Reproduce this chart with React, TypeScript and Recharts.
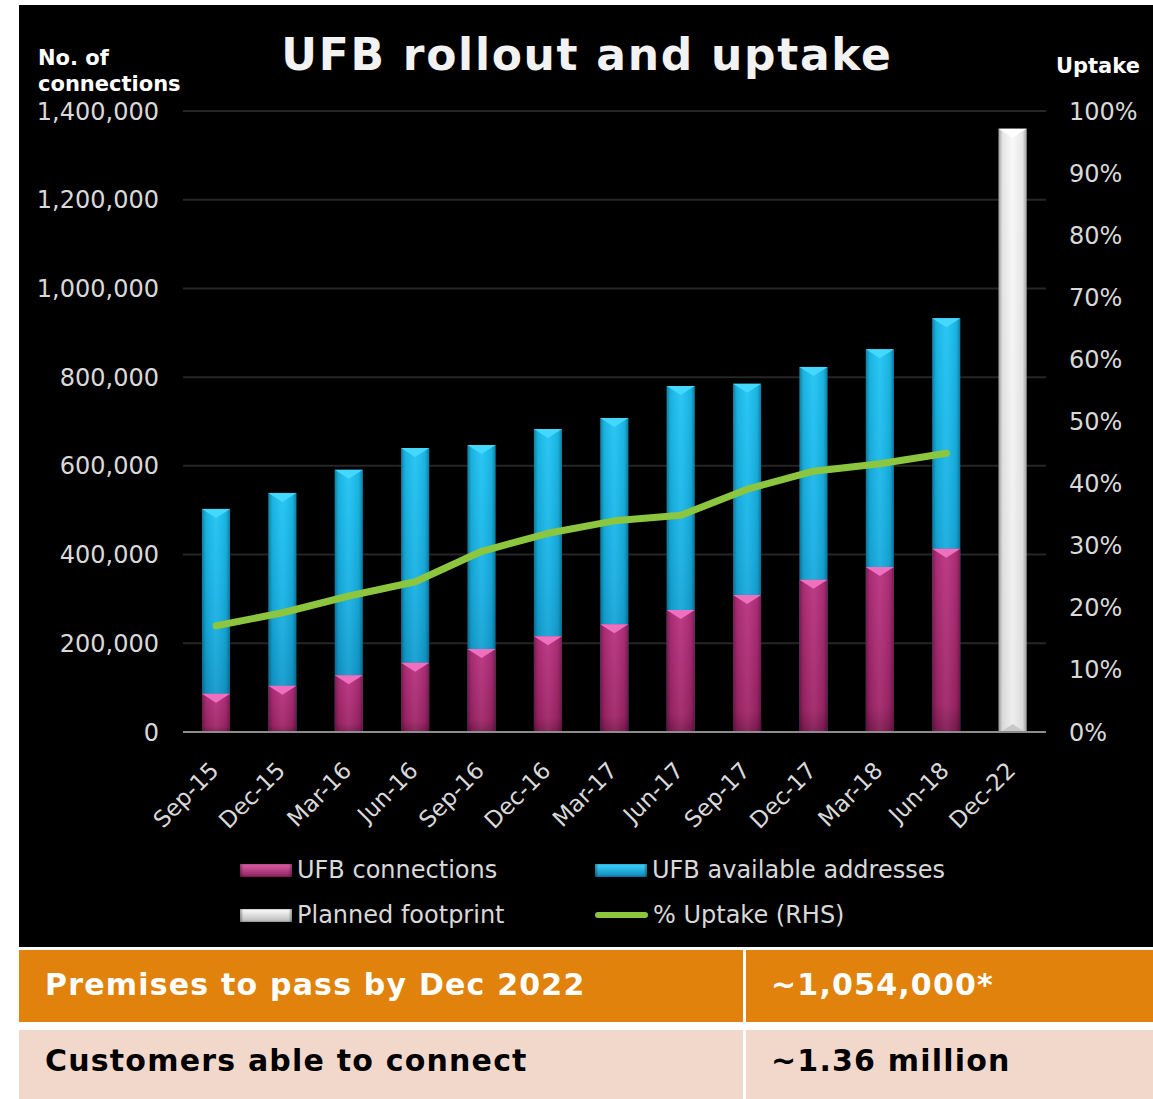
import React from "react";
import {
  ComposedChart,
  Bar,
  Line,
  XAxis,
  YAxis,
  CartesianGrid,
  Legend,
} from "recharts";

const categories = [
  "Sep-15", "Dec-15", "Mar-16", "Jun-16", "Sep-16", "Dec-16", "Mar-17",
  "Jun-17", "Sep-17", "Dec-17", "Mar-18", "Jun-18", "Dec-22",
];
const ufbConnections = [
  86000, 104000, 128000, 156000, 187000, 216000, 243000, 275000, 309000,
  343000, 372000, 413000, null,
];
const ufbAvailable = [
  503000, 539000, 591000, 640000, 647000, 683000, 708000, 780000, 785000,
  823000, 863000, 933000, null,
];
const plannedFootprint = [
  null, null, null, null, null, null, null, null, null, null, null, null, 1360000,
];
const uptake = [
  0.171, 0.192, 0.219, 0.242, 0.291, 0.32, 0.34, 0.349, 0.391, 0.42, 0.432,
  0.449, null,
];
const leftTicks = [0, 200000, 400000, 600000, 800000, 1000000, 1200000, 1400000];
const rightTicks = [0, 0.1, 0.2, 0.3, 0.4, 0.5, 0.6, 0.7, 0.8, 0.9, 1];

const data = categories.map((c, i) => ({
  cat: c,
  available: ufbAvailable[i],
  connections: ufbConnections[i],
  planned: plannedFootprint[i],
  uptake: uptake[i],
}));

const FONT = "'DejaVu Sans', Verdana, sans-serif";
const TICK_COLOR = "#d9d9d9";

const barShape = (kind: string, tri: string) => (props: any) => {
  const { x, y, width, height } = props;
  if (!height || height <= 0 || width == null) return <g />;
  const th = Math.min(9, height / 2);
  return (
    <g>
      <rect x={x} y={y} width={width} height={height} fill={`url(#body-${kind})`} />
      <rect x={x} y={y} width={width} height={height} fill="url(#edges)" />
      <polygon
        points={`${x},${y} ${x + width},${y} ${x + width / 2},${y + th}`}
        fill={tri}
      />
      {kind === "white" && (
        <polygon
          points={`${x + 2},${y + height} ${x + width - 2},${y + height} ${x + width / 2},${y + height - 8}`}
          fill="#c8c8c8"
        />
      )}
    </g>
  );
};

const XTick = (props: any) => {
  const { x, y, payload } = props;
  const ax = x + 4;
  const ay = y + 32;
  return (
    <text
      x={ax}
      y={ay}
      transform={`rotate(-45, ${ax}, ${ay})`}
      textAnchor="end"
      fill={TICK_COLOR}
      fontSize={23}
      fontFamily={FONT}
    >
      {payload.value}
    </text>
  );
};

const swatch = (c1: string, c2: string) => (
  <div
    style={{
      width: 52,
      height: 13,
      background: `linear-gradient(to bottom, ${c1}, ${c2})`,
      boxShadow: "inset 2px 0 2px rgba(0,0,0,0.3), inset -2px 0 2px rgba(0,0,0,0.3)",
      marginRight: 5,
    }}
  />
);

const legendItems = [
  { label: "UFB connections", left: 0, top: 0, sw: swatch("#e060a8", "#8e205e") },
  { label: "UFB available addresses", left: 355, top: 0, sw: swatch("#3fd5ff", "#0d86b8") },
  { label: "Planned footprint", left: 0, top: 45, sw: swatch("#ffffff", "#b8b8b8") },
  {
    label: "% Uptake (RHS)",
    left: 355,
    top: 45,
    sw: (
      <div
        style={{
          width: 53,
          height: 6,
          borderRadius: 3,
          background: "#8cc63f",
          marginRight: 5,
        }}
      />
    ),
  },
];

const LegendContent = () => (
  <div style={{ position: "relative", width: 700, height: 90 }}>
    {legendItems.map((it) => (
      <div
        key={it.label}
        style={{
          position: "absolute",
          left: it.left,
          top: it.top,
          height: 30,
          display: "flex",
          alignItems: "center",
          color: TICK_COLOR,
          fontFamily: FONT,
          fontSize: 24,
          whiteSpace: "nowrap",
        }}
      >
        {it.sw}
        <span>{it.label}</span>
      </div>
    ))}
  </div>
);

export default function App() {
  return (
    <div
      style={{
        position: "absolute",
        left: 0,
        top: 0,
        width: 1153,
        height: 1099,
        background: "#ffffff",
        overflow: "hidden",
      }}
    >
      <div
        style={{
          position: "absolute",
          left: 19,
          top: 5,
          width: 1134,
          height: 942,
          background: "#000000",
        }}
      >
        <ComposedChart
          width={1134}
          height={942}
          data={data}
          margin={{ top: 106, right: 0, left: 0, bottom: 115 }}
          barGap={-28}
          barCategoryGap={0}
        >
          <defs>
            <linearGradient id="body-pink" x1="0" y1="0" x2="0" y2="1">
              <stop offset="0" stopColor="#b8307e" />
              <stop offset="0.85" stopColor="#a02468" />
              <stop offset="1" stopColor="#7e1a52" />
            </linearGradient>
            <linearGradient id="body-blue" x1="0" y1="0" x2="0" y2="1">
              <stop offset="0" stopColor="#1cc3f4" />
              <stop offset="0.5" stopColor="#15afe3" />
              <stop offset="1" stopColor="#0d8ebf" />
            </linearGradient>
            <linearGradient id="body-white" x1="0" y1="0" x2="0" y2="1">
              <stop offset="0" stopColor="#f8f8f8" />
              <stop offset="1" stopColor="#ececec" />
            </linearGradient>
            <linearGradient id="edges" x1="0" y1="0" x2="1" y2="0">
              <stop offset="0" stopColor="#000" stopOpacity="0.35" />
              <stop offset="0.14" stopColor="#000" stopOpacity="0.08" />
              <stop offset="0.5" stopColor="#fff" stopOpacity="0.06" />
              <stop offset="0.86" stopColor="#000" stopOpacity="0.08" />
              <stop offset="1" stopColor="#000" stopOpacity="0.35" />
            </linearGradient>
          </defs>
          <CartesianGrid
            vertical={false}
            horizontal
            stroke="#262626"
            strokeWidth={2}
            yAxisId="left"
          />
          <XAxis
            dataKey="cat"
            interval={0}
            height={100}
            tick={<XTick />}
            tickLine={false}
            axisLine={{ stroke: "#8c8c8c", strokeWidth: 2 }}
          />
          <YAxis
            yAxisId="left"
            orientation="left"
            width={164}
            domain={[0, 1400000]}
            ticks={leftTicks}
            interval={0}
            tickFormatter={(v: number) => v.toLocaleString("en-US")}
            tick={{ fill: TICK_COLOR, fontSize: 24, fontFamily: FONT }}
            tickSize={0}
            tickMargin={24}
            axisLine={false}
            tickLine={false}
          />
          <YAxis
            yAxisId="right"
            orientation="right"
            width={107}
            domain={[0, 1]}
            ticks={rightTicks}
            interval={0}
            tickFormatter={(v: number) => `${Math.round(v * 100)}%`}
            tick={{ fill: TICK_COLOR, fontSize: 24, fontFamily: FONT }}
            tickSize={0}
            tickMargin={23}
            axisLine={false}
            tickLine={false}
          />
          <Bar
            yAxisId="left"
            dataKey="available"
            name="UFB available addresses"
            barSize={28}
            isAnimationActive={false}
            shape={barShape("blue", "#45d8ff")}
          />
          <Bar
            yAxisId="left"
            dataKey="connections"
            name="UFB connections"
            barSize={28}
            isAnimationActive={false}
            shape={barShape("pink", "#f070c0")}
          />
          <Bar
            yAxisId="left"
            dataKey="planned"
            name="Planned footprint"
            barSize={28}
            isAnimationActive={false}
            shape={barShape("white", "#ffffff")}
          />
          <Line
            yAxisId="right"
            dataKey="uptake"
            name="% Uptake (RHS)"
            stroke="#8cc63f"
            strokeWidth={7}
            strokeLinecap="round"
            strokeLinejoin="round"
            dot={false}
            activeDot={false}
            isAnimationActive={false}
          />
          <Legend
            layout="horizontal"
            verticalAlign="middle"
            align="center"
            content={<LegendContent />}
            wrapperStyle={{ left: 221, top: 850, width: 700, height: 90 }}
          />
        </ComposedChart>
        <div
          style={{
            position: "absolute",
            left: 0,
            width: 1134,
            top: 24,
            textAlign: "center",
            color: "#f2f2f2",
            fontFamily: FONT,
            fontWeight: "bold",
            fontSize: 44,
            letterSpacing: 1.7,
            lineHeight: "52px",
          }}
        >
          <span style={{ position: "relative", left: 1 }}>UFB rollout and uptake</span>
        </div>
        <div
          style={{
            position: "absolute",
            left: 19,
            top: 40,
            color: "#ffffff",
            fontFamily: FONT,
            fontWeight: "bold",
            fontSize: 21,
            lineHeight: "26px",
          }}
        >
          No. of
          <br />
          connections
        </div>
        <div
          style={{
            position: "absolute",
            left: 1037,
            top: 48,
            color: "#ffffff",
            fontFamily: FONT,
            fontWeight: "bold",
            fontSize: 21,
            lineHeight: "26px",
          }}
        >
          Uptake
        </div>
      </div>
      {/* Summary table */}
      <div
        style={{
          position: "absolute",
          left: 19,
          top: 950,
          width: 724,
          height: 72,
          background: "#e0820b",
        }}
      />
      <div
        style={{
          position: "absolute",
          left: 746,
          top: 950,
          width: 407,
          height: 72,
          background: "#e0820b",
        }}
      />
      <div
        style={{
          position: "absolute",
          left: 19,
          top: 1030,
          width: 724,
          height: 69,
          background: "#f2d8cb",
        }}
      />
      <div
        style={{
          position: "absolute",
          left: 746,
          top: 1030,
          width: 407,
          height: 69,
          background: "#f2d8cb",
        }}
      />
      {[
        { t: "Premises to pass by Dec 2022", x: 45, y: 985, c: "#ffffff" },
        { t: "~1,054,000*", x: 771, y: 985, c: "#ffffff" },
        { t: "Customers able to connect", x: 45, y: 1061, c: "#000000" },
        { t: "~1.36 million", x: 771, y: 1061, c: "#000000" },
      ].map((r) => (
        <div
          key={r.t}
          style={{
            position: "absolute",
            left: r.x,
            top: r.y - 19,
            height: 38,
            lineHeight: "38px",
            color: r.c,
            fontFamily: FONT,
            fontWeight: "bold",
            fontSize: 30,
            letterSpacing: 1.2,
            whiteSpace: "nowrap",
          }}
        >
          {r.t}
        </div>
      ))}
    </div>
  );
}
